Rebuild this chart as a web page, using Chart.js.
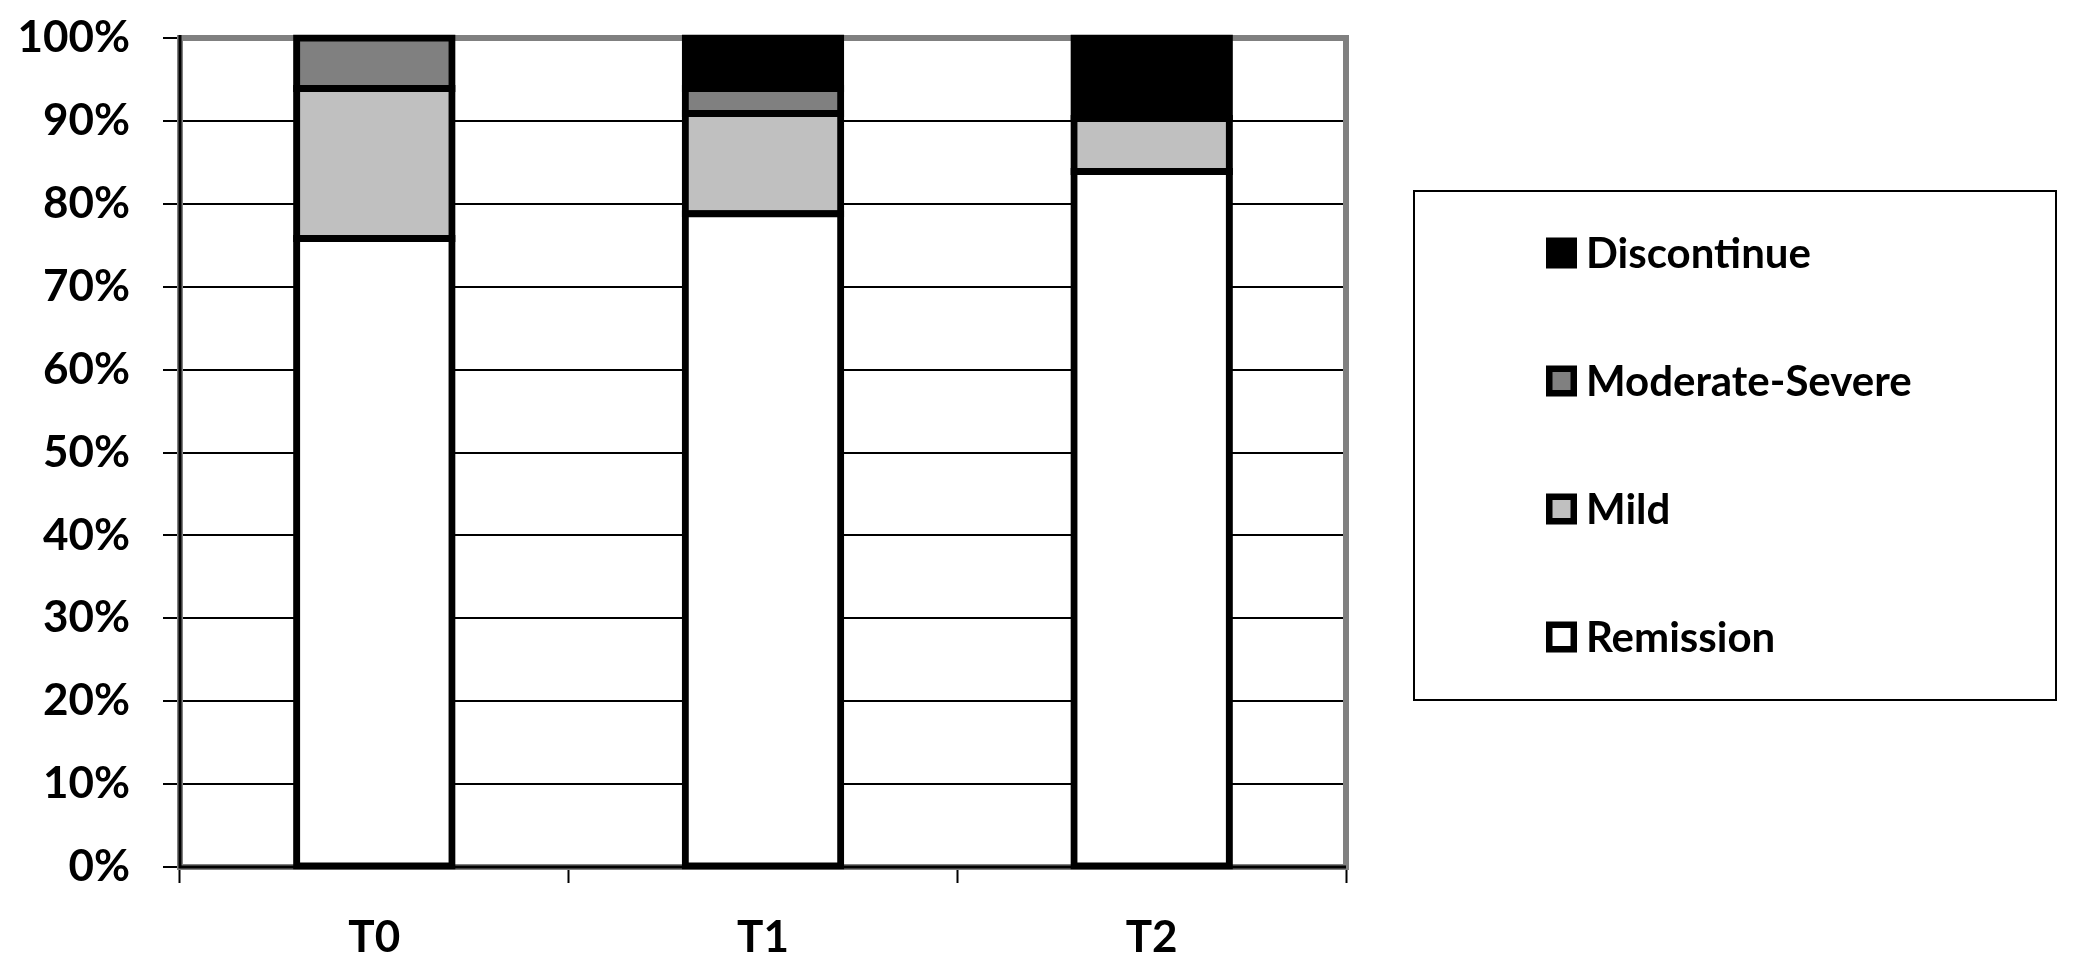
<!DOCTYPE html>
<html>
<head>
<meta charset="utf-8">
<script src="https://cdn.jsdelivr.net/npm/chart.js@4/dist/chart.umd.min.js"></script>
<style>
  html, body { margin: 0; padding: 0; background: #ffffff; }
  #wrap { width: 2076px; height: 965px; }
</style>
</head>
<body>
<div id="wrap"><canvas id="c" width="2076" height="965"></canvas></div>
<script>
const categories = ['T0', 'T1', 'T2'];
const remission = [75.8, 78.8, 83.9];
const mild = [18.1, 12.1, 6.4];
const moderateSevere = [6.1, 3.0, 0];
const discontinue = [0, 6.1, 9.7];
const yTicks = [0, 10, 20, 30, 40, 50, 60, 70, 80, 90, 100];

const FONT = 'Lato, "Open Sans", "Liberation Sans", sans-serif';

const plotFrame = {
  id: 'plotFrame',
  beforeDatasetsDraw(chart) {
    const { ctx, chartArea: a } = chart;
    ctx.save();
    ctx.strokeStyle = '#808080';
    ctx.lineWidth = 6;
    ctx.strokeRect(a.left, a.top, a.right - a.left, a.bottom - a.top);
    ctx.strokeStyle = '#000000';
    ctx.lineWidth = 3;
    ctx.beginPath();
    ctx.moveTo(a.left, a.top - 3);
    ctx.lineTo(a.left, a.bottom);
    ctx.lineTo(a.right, a.bottom);
    ctx.stroke();
    ctx.restore();
  }
};

const boxLegend = {
  id: 'boxLegend',
  afterDraw(chart) {
    const { ctx } = chart;
    const bx = 1414, by = 191, bw = 642, bh = 509;
    ctx.save();
    ctx.strokeStyle = '#000000';
    ctx.lineWidth = 2;
    ctx.strokeRect(bx, by, bw, bh);
    const ds = chart.data.datasets.slice().reverse();
    const firstY = 253, step = 128;
    ctx.font = 'bold 42px ' + FONT;
    ctx.textBaseline = 'middle';
    ctx.textAlign = 'left';
    ds.forEach((d, i) => {
      const cy = firstY + i * step;
      const mx = 1546, ms = 31;
      ctx.fillStyle = '#000000';
      ctx.fillRect(mx, cy - ms / 2, ms, ms);
      ctx.fillStyle = d.backgroundColor;
      const bwid = 6.5;
      ctx.fillRect(mx + bwid, cy - ms / 2 + bwid, ms - 2 * bwid, ms - 2 * bwid);
      ctx.fillStyle = '#000000';
      ctx.fillText(d.label, 1586, cy + 1);
    });
    ctx.restore();
  }
};

function ds(label, data, color) {
  return {
    label: label,
    data: data,
    backgroundColor: color,
    borderColor: '#000000',
    borderWidth: 7,
    borderSkipped: false,
    inflateAmount: (c) => (c.raw === 0 ? 0 : 3.5),
    clip: false,
    categoryPercentage: 1.0,
    barPercentage: 0.4
  };
}

new Chart(document.getElementById('c'), {
  type: 'bar',
  data: {
    labels: categories,
    datasets: [
      ds('Remission', remission, '#ffffff'),
      ds('Mild', mild, '#c0c0c0'),
      ds('Moderate-Severe', moderateSevere, '#808080'),
      ds('Discontinue', discontinue, '#000000')
    ]
  },
  options: {
    responsive: false,
    animation: false,
    devicePixelRatio: 1,
    layout: { padding: { top: 38, right: 730, bottom: 0, left: 0 } },
    plugins: {
      legend: { display: false },
      tooltip: { enabled: false },
      title: { display: false }
    },
    scales: {
      x: {
        stacked: true,
        afterFit(s) { s.height = 98; s.paddingLeft = 0; s.paddingRight = 0; },
        grid: {
          display: true,
          drawOnChartArea: false,
          drawTicks: true,
          tickLength: 16,
          tickColor: '#000000',
          tickWidth: 2,
          offset: true
        },
        border: { display: true, color: '#000000', width: 3 },
        ticks: {
          color: '#000000',
          font: { family: FONT, size: 44, weight: 'bold' },
          padding: 28
        }
      },
      y: {
        stacked: true,
        min: 0,
        max: 100,
        afterFit(s) { s.width = 180; s.paddingTop = 0; s.paddingBottom = 0; },
        afterBuildTicks(s) { s.ticks = yTicks.map(v => ({ value: v })); },
        grid: {
          color: '#000000',
          lineWidth: 2,
          drawTicks: true,
          tickLength: 17,
          tickColor: '#000000',
          tickWidth: 2
        },
        border: { display: true, color: '#000000', width: 3 },
        ticks: {
          color: '#000000',
          font: { family: FONT, size: 44, weight: 'bold' },
          padding: 33,
          callback: (v) => v + '%'
        }
      }
    }
  },
  plugins: [plotFrame, boxLegend]
});
</script>
</body>
</html>
